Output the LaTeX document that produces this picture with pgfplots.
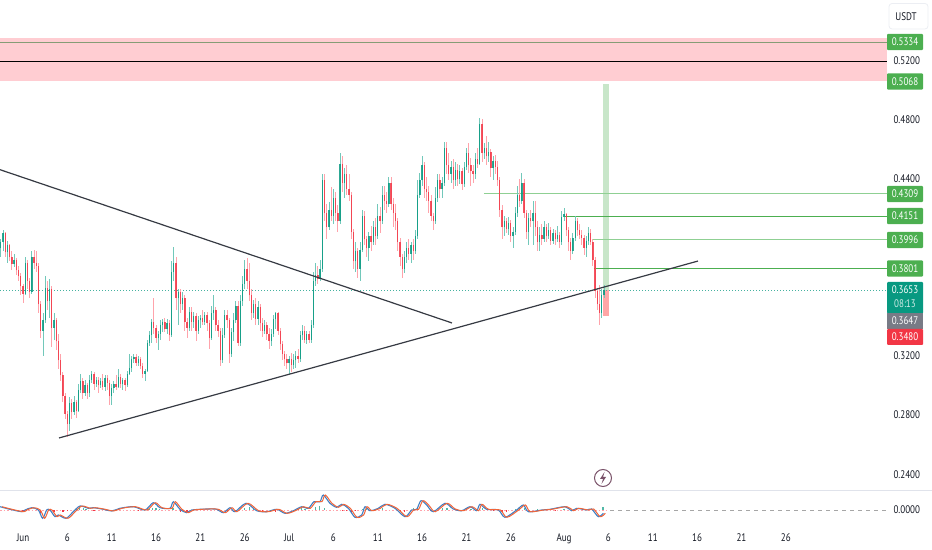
\documentclass[border=0pt]{standalone}
\usepackage{pgfplots}
\usepackage{pgfplotstable}
\usepackage{fontspec}
\pgfplotsset{compat=1.18}
\setmainfont{PT Sans}[FakeStretch=0.82]
\definecolor{upbody}{HTML}{089981}
\definecolor{upwick}{HTML}{72C8BA}
\definecolor{dnbody}{HTML}{F23645}
\definecolor{dnwick}{HTML}{FFA3AB}
\definecolor{zone}{HTML}{FFCDD2}
\definecolor{lvl}{HTML}{4CAF50}
\definecolor{lvll}{HTML}{8FD093}
\definecolor{bandg}{HTML}{C8E6C9}
\definecolor{bandr}{HTML}{FFA6A6}
\definecolor{ink}{HTML}{131722}
\definecolor{greyb}{HTML}{787B86}
\definecolor{sep}{HTML}{E0E3EB}
\definecolor{oscb}{HTML}{3F7FC4}
\definecolor{osco}{HTML}{F0653A}
\definecolor{bolt}{HTML}{7A5269}
\pgfplotstableread{
x o h l c
-2.50 .394 .400 .388 .398
-2.25 .398 .406 .392 .404
-2.00 .404 .405 .388 .391
-1.75 .391 .399 .384 .396
-1.50 .396 .397 .385 .388
-1.25 .388 .392 .379 .383
-1.00 .383 .390 .381 .386
-0.75 .386 .387 .376 .379
-0.50 .379 .382 .372 .375
-0.25 .375 .377 .362 .368
0.00 .368 .370 .357 .363
0.25 .363 .388 .362 .384
0.50 .384 .386 .366 .372
0.75 .372 .374 .360 .364
1.00 .364 .392 .363 .388
1.25 .388 .393 .380 .384
1.50 .384 .392 .378 .382
1.75 .382 .384 .350 .356
2.00 .356 .358 .333 .338
2.25 .338 .350 .321 .345
2.50 .345 .375 .343 .367
2.75 .367 .372 .352 .358
3.00 .358 .373 .347 .366
3.25 .366 .368 .327 .340
3.50 .340 .350 .332 .345
3.75 .345 .347 .325 .331
4.00 .331 .336 .312 .318
4.25 .318 .322 .304 .308
4.50 .308 .310 .290 .294
4.75 .294 .296 .278 .282
5.00 .282 .284 .266 .275
5.25 .275 .293 .270 .289
5.50 .289 .292 .278 .283
5.75 .283 .294 .281 .290
6.00 .290 .291 .279 .284
6.25 .284 .302 .283 .298
6.50 .298 .309 .296 .304
6.75 .304 .306 .292 .296
7.00 .296 .305 .294 .301
7.25 .301 .303 .292 .296
7.50 .296 .308 .293 .305
7.75 .305 .311 .303 .309
8.00 .309 .310 .298 .302
8.25 .302 .307 .300 .305
8.50 .305 .307 .296 .301
8.75 .301 .306 .299 .304
9.00 .304 .309 .298 .300
9.25 .300 .308 .297 .306
9.50 .306 .308 .298 .303
9.75 .303 .305 .288 .294
10.00 .294 .302 .288 .299
10.25 .299 .304 .296 .302
10.50 .302 .308 .298 .300
10.75 .300 .312 .299 .307
11.00 .307 .309 .299 .302
11.25 .302 .306 .298 .305
11.50 .305 .306 .297 .301
11.75 .301 .311 .300 .309
12.00 .309 .322 .308 .313
12.25 .313 .321 .310 .319
12.50 .319 .322 .316 .320
12.75 .320 .322 .314 .316
13.00 .316 .321 .314 .319
13.25 .319 .320 .312 .314
13.50 .314 .316 .306 .309
13.75 .309 .312 .304 .311
14.00 .311 .332 .310 .330
14.25 .330 .338 .328 .335
14.50 .335 .346 .330 .344
14.75 .344 .360 .336 .340
15.00 .340 .342 .330 .333
15.25 .333 .338 .325 .336
15.50 .336 .345 .332 .342
15.75 .342 .346 .337 .344
16.00 .344 .347 .337 .339
16.25 .339 .346 .336 .343
16.50 .343 .345 .331 .335
16.75 .335 .385 .334 .378
17.00 .378 .395 .372 .384
17.25 .384 .388 .352 .360
17.50 .360 .366 .342 .364
17.75 .364 .366 .350 .356
18.00 .356 .364 .352 .360
18.25 .360 .362 .338 .344
18.50 .344 .347 .333 .340
18.75 .340 .354 .338 .351
19.00 .351 .354 .338 .344
19.25 .344 .351 .340 .348
19.50 .348 .350 .331 .338
19.75 .338 .348 .336 .345
20.00 .345 .349 .340 .347
20.25 .347 .352 .342 .344
20.50 .344 .351 .342 .349
20.75 .349 .351 .338 .343
21.00 .343 .345 .326 .333
21.25 .333 .355 .332 .350
21.50 .350 .362 .345 .352
21.75 .352 .354 .338 .342
22.00 .342 .345 .334 .338
22.25 .338 .340 .314 .318
22.50 .318 .340 .316 .335
22.75 .335 .352 .333 .349
23.00 .349 .352 .340 .345
23.25 .345 .347 .316 .322
23.50 .322 .340 .320 .337
23.75 .337 .350 .331 .345
24.00 .345 .358 .343 .355
24.25 .355 .358 .328 .330
24.50 .330 .362 .328 .358
24.75 .358 .375 .355 .370
25.00 .370 .386 .366 .380
25.25 .380 .387 .366 .372
25.50 .372 .384 .358 .362
25.75 .362 .366 .345 .350
26.00 .350 .359 .347 .356
26.25 .356 .360 .342 .346
26.50 .346 .358 .342 .354
26.75 .354 .356 .338 .343
27.00 .343 .347 .334 .338
27.25 .338 .345 .336 .342
27.50 .342 .344 .332 .336
27.75 .336 .340 .326 .331
28.00 .331 .339 .328 .336
28.25 .336 .349 .334 .346
28.50 .346 .351 .339 .350
28.75 .350 .351 .335 .338
29.00 .338 .340 .325 .329
29.25 .329 .331 .318 .322
29.50 .322 .324 .314 .319
29.75 .319 .322 .312 .316
30.00 .316 .321 .309 .319
30.25 .319 .323 .310 .315
30.50 .315 .322 .312 .318
30.75 .318 .324 .313 .321
31.00 .321 .326 .316 .319
31.25 .319 .338 .317 .335
31.50 .335 .342 .332 .338
31.75 .338 .341 .330 .332
32.00 .332 .338 .329 .336
32.25 .336 .338 .330 .332
32.50 .332 .345 .330 .342
32.75 .342 .378 .340 .372
33.00 .372 .384 .368 .376
33.25 .376 .382 .370 .373
33.50 .373 .386 .372 .380
33.75 .380 .444 .378 .440
34.00 .440 .444 .412 .418
34.25 .418 .424 .400 .408
34.50 .408 .425 .406 .420
34.75 .420 .435 .412 .416
35.00 .416 .434 .410 .428
35.25 .428 .432 .412 .418
35.50 .418 .423 .405 .412
35.75 .412 .458 .410 .451
36.00 .451 .456 .432 .438
36.25 .438 .448 .428 .444
36.50 .444 .450 .430 .434
36.75 .434 .444 .426 .430
37.00 .430 .432 .400 .405
37.25 .405 .407 .380 .385
37.50 .385 .398 .378 .392
37.75 .392 .394 .374 .380
38.00 .380 .398 .372 .393
38.25 .393 .420 .391 .416
38.50 .416 .419 .396 .400
38.75 .400 .402 .388 .394
39.00 .394 .405 .385 .402
39.25 .402 .409 .392 .398
39.50 .398 .412 .396 .408
39.75 .408 .414 .396 .402
40.00 .402 .424 .400 .416
40.25 .416 .422 .404 .412
40.50 .412 .436 .410 .430
40.75 .430 .436 .420 .426
41.00 .426 .432 .418 .424
41.25 .424 .442 .422 .438
41.50 .438 .442 .420 .424
41.75 .424 .428 .408 .418
42.00 .418 .424 .406 .412
42.25 .412 .414 .392 .398
42.50 .398 .401 .382 .388
42.75 .388 .390 .374 .380
43.00 .380 .392 .377 .388
43.25 .388 .398 .384 .394
43.50 .394 .400 .386 .390
43.75 .390 .398 .384 .396
44.00 .396 .400 .386 .392
44.25 .392 .406 .390 .402
44.50 .402 .440 .400 .430
44.75 .430 .445 .428 .440
45.00 .440 .456 .436 .450
45.25 .450 .452 .428 .434
45.50 .434 .442 .426 .432
45.75 .432 .436 .418 .426
46.00 .426 .430 .412 .416
46.25 .416 .418 .406 .412
46.50 .412 .435 .410 .428
46.75 .428 .444 .425 .440
47.00 .440 .444 .428 .434
47.25 .434 .442 .428 .438
47.50 .438 .466 .436 .462
47.75 .462 .466 .444 .450
48.00 .450 .458 .440 .444
48.25 .444 .453 .438 .449
48.50 .449 .454 .434 .440
48.75 .440 .452 .436 .447
49.00 .447 .451 .436 .441
49.25 .441 .450 .437 .446
49.50 .446 .448 .433 .437
49.75 .437 .452 .435 .449
50.00 .449 .462 .447 .458
50.25 .458 .465 .445 .450
50.50 .450 .455 .436 .446
50.75 .446 .450 .438 .444
51.00 .444 .458 .441 .454
51.25 .454 .462 .448 .451
51.50 .451 .482 .450 .478
51.75 .478 .481 .452 .458
52.00 .458 .465 .454 .462
52.25 .462 .470 .450 .456
52.50 .456 .466 .452 .459
52.75 .459 .461 .442 .448
53.00 .448 .456 .440 .453
53.25 .453 .457 .444 .449
53.50 .449 .453 .436 .440
53.75 .440 .442 .415 .420
54.00 .420 .423 .400 .408
54.25 .408 .416 .402 .412
54.50 .412 .414 .404 .407
54.75 .407 .415 .403 .411
55.00 .411 .413 .398 .402
55.25 .402 .408 .394 .405
55.50 .405 .422 .403 .418
55.75 .418 .436 .415 .430
56.00 .430 .441 .422 .426
56.25 .426 .445 .424 .438
56.50 .438 .441 .414 .418
56.75 .418 .420 .400 .405
57.00 .405 .418 .396 .414
57.25 .414 .420 .408 .412
57.50 .412 .426 .396 .418
57.75 .418 .426 .402 .408
58.00 .408 .412 .392 .398
58.25 .398 .408 .392 .403
58.50 .403 .410 .396 .400
58.75 .400 .412 .398 .408
59.00 .408 .410 .398 .402
59.25 .402 .411 .400 .406
59.50 .406 .408 .396 .399
59.75 .399 .407 .397 .404
60.00 .404 .406 .396 .400
60.25 .400 .409 .398 .403
60.50 .403 .405 .394 .398
60.75 .398 .419 .396 .415
61.00 .415 .421 .412 .417
61.25 .417 .418 .402 .406
61.50 .406 .408 .392 .398
61.75 .398 .401 .386 .392
62.00 .392 .404 .390 .401
62.25 .401 .416 .399 .412
62.50 .412 .414 .402 .406
62.75 .406 .410 .400 .403
63.00 .403 .406 .396 .401
63.25 .401 .403 .389 .394
63.50 .394 .402 .388 .399
63.75 .399 .408 .396 .404
64.00 .404 .407 .396 .398
64.25 .398 .400 .382 .386
64.50 .386 .388 .360 .365
64.75 .365 .367 .352 .356
65.00 .356 .369 .342 .350
65.25 .350 .366 .347 .362
65.50 .362 .369 .360 .3653
}\candles
\pgfplotstableread{
d v
-2.59 3.3
-1.47 0.7
-0.15 -1.7
0.23 0
0.98 2.3
1.73 0
2.22 -8.3
2.67 0
3.04 0
3.61 -6.7
3.98 -5
4.85 -8.3
5.67 -1.7
6.43 4
7.37 1.7
7.93 2.3
9.06 0.7
10.0 -1
10.94 1.7
12.44 3.3
13.75 0
14.69 7.3
15.45 2.3
16.57 1.7
16.95 8.3
17.7 0.7
18.45 -2.7
19.02 0
20.71 1
21.83 0.7
22.59 -2.7
23.34 2.3
23.9 -1.7
25.14 6.7
26.34 -0.7
27.47 -1.7
28.6 0.7
29.54 -3.3
30.48 -0.7
31.42 3.3
32.17 1.7
32.81 8.3
33.48 8.3
33.86 15
34.61 6.7
35.36 2.7
35.93 5.7
36.68 1.7
37.43 -7.3
38.18 -5
38.56 3.3
39.12 -0.7
40.06 1.7
40.81 5.7
41.94 1.7
43.07 -6.7
43.82 0
44.38 0.7
44.87 9.3
45.51 5
46.26 -1.7
47.58 6.7
48.51 1
49.46 -0.7
50.4 3.3
51.15 -0.7
51.52 5.7
52.27 0.7
53.59 0
54.34 -7.3
55.66 0
56.41 5
56.97 -1.7
58.47 0
59.41 0.7
61.11 3.3
61.86 -0.7
62.42 1.7
63.55 0
64.11 1
64.86 -6.7
65.43 -3.3
}\osc
\pgfplotstableread{
d v
6.0 2
6.4 2.5
6.8 2
7.1 1.5
14.2 1.5
14.6 2.5
15 2
15.4 1.5
16.9 2
25 2
25.5 3
26 1.5
31 1.5
31.4 2
31.8 1
33 3
33.4 4
34 2
38.3 1.5
38.7 2
40.5 2
44 2
44.5 3
47.3 2
47.8 2.5
50 2
50.5 1
51.8 2
55.5 1.5
56 2.5
56.5 2
58 1
59.5 1.5
61 1.5
62.2 1
65.4 3
}\histup
\pgfplotstableread{
d v
-1 -1
0 -1.5
2 -2.5
3.5 -2
4.5 -1.5
5 -1
8 -1
10 -1
13 -0.8
17.8 -2
18.5 -2
23 -1
24 -1.5
27 -1
28.5 -1.5
36 -1
36.5 -1.2
37 -2
37.5 -1
42.5 -1
43 -1.5
46 -1
49 -0.8
53 -1
54 -1.5
54.5 -1.5
60 -1
}\histdn
\newcommand{\lab}{\fontsize{11bp}{13bp}\selectfont}
\newcommand{\plabel}[3]{\node[fill=#2,text=white,minimum width=36bp,minimum height=16.4bp,inner sep=0pt,rounded corners=1bp,font=\lab] at (905bp,{(490-#1)*1bp}) {#3};}
\begin{document}
\begin{tikzpicture}
\path[use as bounding box] (0,-60bp) rectangle (932bp,490bp);
\begin{axis}[
  name=main, at={(0,0)}, anchor=south west, scale only axis,
  width=887bp, height=490bp,
  xmin=-2.593, xmax=97.41, ymin=0.2303, ymax=0.5618,
  axis line style={draw=none}, tick style={draw=none}, major tick length=0pt,
  xtick=\empty,
  ytick={0.24,0.28,0.32,0.44,0.48,0.52},
  yticklabels={0.2400,0.2800,0.3200,0.4400,0.4800,0.5200},
  yticklabel pos=right,
  yticklabel style={font=\lab,text=ink,xshift=3bp,yshift=1.5bp},
]
\addplot[fill=zone,draw=none] coordinates {(-2.593,0.5068)(97.41,0.5068)(97.41,0.5362)(-2.593,0.5362)} -- cycle;
\addplot[lvl!70!black!60!zone,line width=0.9bp] coordinates {(-2.593,0.5334)(97.41,0.5334)};
\addplot[black,line width=0.9bp] coordinates {(-2.593,0.5200)(97.41,0.5200)};
\addplot[fill=bandg,draw=none] coordinates {(65.39,0.3653)(66.06,0.3653)(66.06,0.5051)(65.39,0.5051)} -- cycle;
\addplot[fill=bandr,draw=none] coordinates {(65.39,0.3480)(66.06,0.3480)(66.06,0.3653)(65.39,0.3653)} -- cycle;
\addplot[lvll,line width=1.3bp] coordinates {(51.97,0.4309)(97.41,0.4309)};
\addplot[lvl,line width=0.9bp] coordinates {(61.1,0.4151)(97.41,0.4151)};
\addplot[lvll,line width=1.3bp] coordinates {(64.26,0.3996)(97.41,0.3996)};
\addplot[lvl,line width=0.9bp] coordinates {(64.37,0.3801)(97.41,0.3801)};
\addplot[upbody!75!white,line width=0.9bp,dash pattern=on 1bp off 2bp] coordinates {(-2.593,0.3653)(97.41,0.3653)};
% wicks
\addplot[draw=none,no markers,restrict expr to domain={\thisrow{c}-\thisrow{o}}{0:1},
  error bars/.cd,y dir=both,y explicit,error mark=none,error bar style={draw=upwick,line width=0.9bp}]
  table[x=x,y=o,y error plus expr=\thisrow{h}-\thisrow{o},y error minus expr=\thisrow{o}-\thisrow{l}] {\candles};
\addplot[draw=none,no markers,restrict expr to domain={\thisrow{c}-\thisrow{o}}{-1:-0.00001},
  error bars/.cd,y dir=both,y explicit,error mark=none,error bar style={draw=dnwick,line width=0.9bp}]
  table[x=x,y=o,y error plus expr=\thisrow{h}-\thisrow{o},y error minus expr=\thisrow{o}-\thisrow{l}] {\candles};
% bodies
\addplot[draw=none,no markers,restrict expr to domain={\thisrow{c}-\thisrow{o}}{0:1},
  error bars/.cd,y dir=plus,y explicit,error mark=none,error bar style={draw=upbody,line width=1.3bp,opacity=0.85}]
  table[x=x,y=o,y error plus expr=\thisrow{c}-\thisrow{o}] {\candles};
\addplot[draw=none,no markers,restrict expr to domain={\thisrow{c}-\thisrow{o}}{-1:-0.00001},
  error bars/.cd,y dir=plus,y explicit,error mark=none,error bar style={draw=dnbody,line width=1.3bp,opacity=0.85}]
  table[x=x,y=c,y error plus expr=\thisrow{o}-\thisrow{c}] {\candles};
% trend lines
\addplot[ink!85,line width=1.2bp] coordinates {(-2.593,0.4470)(48.365,0.3433)};
\addplot[ink!85,line width=1.2bp] coordinates {(4.059,0.2655)(76.10,0.3852)};
\end{axis}
\begin{axis}[
  at={(0,-35bp)}, anchor=south west, scale only axis,
  width=887bp, height=35bp,
  xmin=-2.593, xmax=97.41, ymin=-15, ymax=20,
  axis line style={draw=none}, tick style={draw=none}, major tick length=0pt,
  xtick={0,5,10,15,20,25,30,35,40,45,50,55,61,66,71,76,81,86},
  xticklabels={Jun,6,11,16,21,26,Jul,6,11,16,21,26,Aug,6,11,16,21,26},
  xticklabel style={font=\lab,text=ink,yshift=-5bp},
  ytick={0}, yticklabels={0.0000},
  yticklabel pos=right,
  yticklabel style={font=\lab,text=ink,xshift=3bp},
]
\addplot[dnwick,line width=0.6bp,dash pattern=on 1.5bp off 2bp] coordinates {(-2.593,0)(66,0)};
\addplot[black!35,line width=0.7bp,dash pattern=on 4bp off 4bp] coordinates {(66.2,0)(97.41,0)};
\addplot[ycomb,upbody!70!white,line width=1.2bp] table[x=d,y=v] {\histup};
\addplot[ycomb,dnbody,line width=1.2bp] table[x=d,y=v] {\histdn};
\addplot[oscb,line width=1.1bp,smooth] table[x=d,y=v] {\osc};
\addplot[osco,line width=1bp,smooth] table[x expr=\thisrow{d}+0.22,y=v] {\osc};
\end{axis}
\draw[sep,line width=0.9bp] (0,0) -- (932bp,0);
% price scale labels
\plabel{42}{lvl}{0.5334}
\plabel{81.5}{lvl}{0.5068}
\plabel{194}{lvl}{0.4309}
\plabel{216}{lvl}{0.4151}
\plabel{240}{lvl}{0.3996}
\plabel{268.5}{lvl}{0.3801}
\fill[upbody,rounded corners=1bp] (887bp,{(490-282)*1bp}) rectangle (923bp,{(490-313.5)*1bp});
\node[text=white,font=\lab,inner sep=0pt] at (905bp,{(490-290)*1bp}) {0.3653};
\node[text=white!80!upbody,font=\lab,inner sep=0pt] at (905bp,{(490-304)*1bp}) {08:13};
\fill[greyb] (887bp,{(490-313)*1bp}) rectangle (923bp,{(490-329)*1bp});
\node[text=white,font=\lab,inner sep=0pt] at (905bp,{(490-321)*1bp}) {0.3647};
\fill[dnbody,rounded corners=1bp] (887bp,{(490-329)*1bp}) rectangle (923bp,{(490-345)*1bp});
\node[text=white,font=\lab,inner sep=0pt] at (905bp,{(490-337)*1bp}) {0.3480};
% currency box
\draw[sep!60!white,line width=0.8bp,fill=white,rounded corners=3bp] (889bp,{(490-3.5)*1bp}) rectangle (928bp,{(490-29)*1bp});
\node[text=ink,font=\lab,inner sep=0pt] at (906bp,{(490-17)*1bp}) {USDT};
% lightning icon
\draw[bolt,line width=1bp,fill=white] (603bp,12bp) circle (8.5bp);
\fill[bolt] (604.5bp,18bp) -- (600bp,11bp) -- (603bp,11bp) -- (601.5bp,6bp) -- (606bp,13bp) -- (603bp,13bp) -- cycle;
\end{tikzpicture}
\end{document}
